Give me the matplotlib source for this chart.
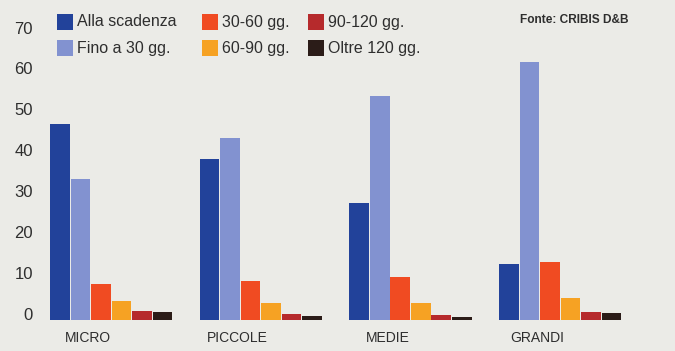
import matplotlib
matplotlib.use("Agg")
import matplotlib.pyplot as plt
import matplotlib.transforms as mtransforms
from matplotlib.patches import Rectangle
import numpy as np

categories = ["MICRO", "PICCOLE", "MEDIE", "GRANDI"]
series_names = ["Alla scadenza", "Fino a 30 gg.", "30-60 gg.", "60-90 gg.", "90-120 gg.", "Oltre 120 gg."]
alla_scadenza = [48.0, 39.5, 28.6, 13.7]
fino_30 = [34.5, 44.6, 54.8, 63.2]
gg_30_60 = [8.8, 9.6, 10.5, 14.2]
gg_60_90 = [4.6, 4.2, 4.2, 5.4]
gg_90_120 = [2.2, 1.5, 1.2, 2.0]
oltre_120 = [1.9, 1.0, 0.7, 1.7]
series_values = [alla_scadenza, fino_30, gg_30_60, gg_60_90, gg_90_120, oltre_120]
yticks = [0, 10, 20, 30, 40, 50, 60, 70]
source_text = "Fonte: CRIBIS D&B"

colors = ["#22429a", "#8292d0", "#f04b22", "#f6a223", "#b62a2c", "#2b1c18"]
bg = "#ebebe7"
txt = "#2e2e2e"

plt.rcParams["font.family"] = ["Liberation Sans", "DejaVu Sans"]

W, H = 675, 351
fig = plt.figure(figsize=(6.75, 3.51), dpi=100, facecolor=bg)
ax = fig.add_axes([40 / W, 31 / H, 610 / W, 286 / H])
ax.set_facecolor(bg)

w = 0.137
x = np.arange(len(categories))
for j, (name, vals) in enumerate(zip(series_names, series_values)):
    ax.bar(x + j * w, vals, width=w * 0.96, align="edge", color=colors[j],
           label=name, linewidth=0)

ax.set_xlim(-0.067, 4.008)
ax.set_ylim(0, 70)
ax.set_yticks(yticks)
ax.set_yticklabels([str(t) for t in yticks], fontsize=12, color=txt)
ax.set_xticks(x + 1.85 * w)
ax.set_xticklabels(categories, fontsize=10, color=txt)
ax.tick_params(axis="both", length=0)
ax.tick_params(axis="y", pad=5)
ax.tick_params(axis="x", pad=8)
off = mtransforms.ScaledTranslation(0, 0.065, fig.dpi_scale_trans)
for lab in ax.get_yticklabels():
    lab.set_transform(lab.get_transform() + off)
for s in ax.spines.values():
    s.set_visible(False)

# legend, laid out in 3 columns x 2 rows
col_x = [57, 202, 308]
row_y = [22, 48]
sw = 16
for j, name in enumerate(series_names):
    c, r = j // 2, j % 2
    x0, yc = col_x[c], row_y[r]
    fig.patches.append(Rectangle((x0 / W, 1 - (yc + sw / 2) / H), sw / W, sw / H,
                                 transform=fig.transFigure, color=colors[j],
                                 linewidth=0))
    fig.text((x0 + sw + 4) / W, 1 - yc / H, name, fontsize=11.5, color=txt,
             ha="left", va="center")

fig.text(628 / W, 1 - 20 / H, source_text, fontsize=8.6, color=txt,
         ha="right", va="center", fontweight="bold")

fig.savefig("out.png", dpi=100, facecolor=bg)
